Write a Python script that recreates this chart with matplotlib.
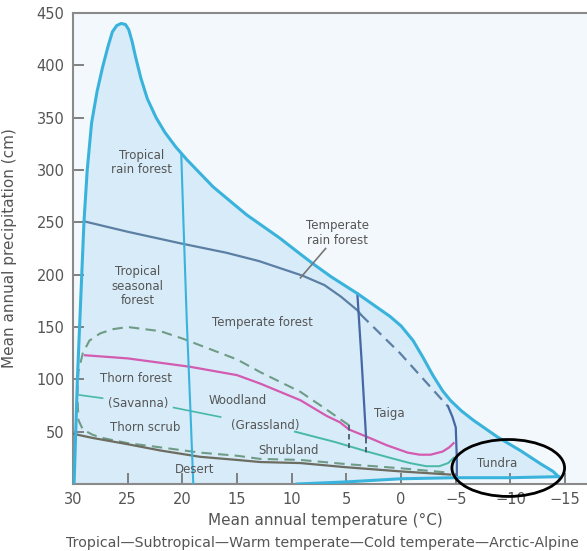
import matplotlib
matplotlib.use("Agg")
import matplotlib.pyplot as plt
from matplotlib.patches import Ellipse, Polygon

# ---------------- data (temperature degC, precipitation cm) ----------------
outer_temp = [29.9, 29.75, 29.6, 29.4, 29.2, 29.0, 28.7, 28.3, 27.8, 27.3, 26.8, 26.4,
              26.0, 25.6, 25.2, 24.9, 24.6, 24.3, 23.8, 23.2, 22.4, 21.6, 20.6, 19.6,
              18.4, 17.2, 15.6, 14.1, 12.6, 11.1, 9.5, 8.0, 6.4, 4.9, 4.0, 2.5, 1.0,
              0.0, -1.1, -2.0, -2.9, -3.8, -4.5, -5.5, -6.6, -8.8, -10.9, -12.8, -13.9, -14.4]
outer_prec = [0, 50, 100, 150, 200, 250, 300, 345, 375, 398, 418, 432,
              438, 440, 439, 434, 423, 409, 388, 368, 350, 336, 322, 310,
              297, 284, 270, 257, 246, 235, 222, 210, 198, 188, 182, 171, 160,
              151, 137, 121, 104, 89, 80, 70, 61, 45, 32, 19, 12, 7]
bottom_temp = [-14.4, -10.0, -5.0, 0.0, 5.0, 9.5]
bottom_prec = [7, 6, 6, 5, 2, 0]

rainforest_temp = [20.1, 19.9, 19.6, 19.3, 19.0]
rainforest_prec = [315, 250, 157, 80, 0]

seasonal_temp = [29.0, 25.0, 20.2, 16.0, 13.0, 11.0, 9.0, 7.0, 5.5, 4.0, 3.7]
seasonal_prec = [251, 241, 230, 221, 213, 206, 199, 190, 179, 166, 162]

taigadash_temp = [3.7, 0.1, -2.4, -4.3]
taigadash_prec = [162, 125, 96, 74]

tempforest_temp = [4.0, 3.6, 3.2]
tempforest_prec = [182, 116, 44]
tempforest_dash_temp = [3.2, 3.2]
tempforest_dash_prec = [44, 30]

short_dash_temp = [4.75, 4.75]
short_dash_prec = [56, 34]

tundra_temp = [-4.3, -4.7, -5.0, -5.1, -5.1]
tundra_prec = [74, 64, 54, 23, 6]

magenta_temp = [28.9, 25.0, 19.3, 15.0, 12.9, 9.2, 6.8, 5.6, 4.75, 3.1, 1.3, -0.6, -1.7, -2.7, -3.8, -4.4, -4.8]
magenta_prec = [123, 120, 112, 104, 96, 80, 65, 59, 52, 45, 37, 30, 28, 28, 31, 35, 39]

wood_temp = [4.75, 6.8, 9.2, 12.9, 15.0, 20.0, 22.0, 25.0, 26.3, 27.5, 28.5, 29.1, 29.5,
             29.6, 29.5, 29.1, 28.2, 27.3, 25.0, 22.0, 18.4, 15.0, 12.9, 9.2, 5.0, 0.0, -4.2]
wood_prec = [56, 71, 88, 107, 119, 139, 146, 150, 148, 144, 137, 125, 108,
             85, 61, 52, 47, 44, 39, 35, 30, 27, 24, 23, 19, 15, 11]

desert_temp = [30.0, 28.2, 25.0, 22.0, 18.4, 15.0, 12.9, 9.2, 5.0, 0.0, -4.5]
desert_prec = [48, 44, 38, 32, 26, 23, 21, 20, 16, 12, 9]

shrub_temp = [9.7, 6.0, 3.1, 1.0, -0.8, -2.3, -3.5, -4.3, -4.8]
shrub_prec = [50, 40, 31, 25, 20, 17, 17, 20, 25]

savanna_ptr_temp = [29.4, 27.3]
savanna_ptr_prec = [85, 82]
grass_ptr_temp = [20.8, 16.5]
grass_ptr_prec = [73, 64]
trf_ptr_temp = [9.2, 6.9]
trf_ptr_prec = [197, 225]

labels = ["Tropical\nrain forest", "Tropical\nseasonal\nforest", "Temperate\nrain forest",
          "Temperate forest", "Thorn forest", "(Savanna)", "Thorn scrub", "Woodland",
          "(Grassland)", "Shrubland", "Desert", "Taiga", "Tundra"]
label_temp = [23.7, 24.1, 5.8, 12.7, 24.2, 24.0, 23.4, 14.9, 12.4, 10.3, 18.9, 1.1, -8.8]
label_prec = [307, 189, 240, 154, 101, 77, 54, 80, 56, 32, 14, 67, 20]

xticks = [30, 25, 20, 15, 10, 5, 0, -5, -10, -15]
yticks = [50, 100, 150, 200, 250, 300, 350, 400, 450]

# ---------------- styles ----------------
CYAN = "#3ab3dc"
DARK = "#5c7fa4"
VDARK = "#4567a6"
MAG = "#d35bb0"
GDASH = "#6f9c86"
TEAL = "#47b9a6"
DES = "#6c6c60"
FILL = "#d7ebf8"
BG = "#f3f8fc"
TXT = "#555555"

fig = plt.figure(figsize=(5.87, 5.51), dpi=100)
ax = fig.add_axes([73 / 587, 67 / 551, 514 / 587, 471 / 551])
ax.set_facecolor(BG)
ax.set_xlim(30, -17)
ax.set_ylim(0, 450)

poly_x = outer_temp + bottom_temp + [29.9]
poly_y = outer_prec + bottom_prec + [0]
ax.add_patch(Polygon(list(zip(poly_x, poly_y)), closed=True, fc=FILL, ec="none", zorder=1))

ax.plot(outer_temp, outer_prec, color=CYAN, lw=2.2, zorder=5, solid_joinstyle="round")
ax.plot(bottom_temp, bottom_prec, color=CYAN, lw=2.2, zorder=5)
ax.plot(rainforest_temp, rainforest_prec, color=CYAN, lw=1.5, zorder=4)
ax.plot(seasonal_temp, seasonal_prec, color=DARK, lw=1.6, zorder=3, solid_joinstyle="round")
ax.plot(taigadash_temp, taigadash_prec, color=DARK, lw=1.6, ls=(0, (5, 3)), zorder=3)
ax.plot(tempforest_temp, tempforest_prec, color=VDARK, lw=1.6, zorder=4)
ax.plot(tempforest_dash_temp, tempforest_dash_prec, color="#4a5a70", lw=1.3, ls=(0, (3, 2)), zorder=4)
ax.plot(short_dash_temp, short_dash_prec, color="#4a5a70", lw=1.3, ls=(0, (3, 2)), zorder=4)
ax.plot(tundra_temp, tundra_prec, color=VDARK, lw=1.6, zorder=4, solid_joinstyle="round")
ax.plot(magenta_temp, magenta_prec, color=MAG, lw=1.6, zorder=3, solid_joinstyle="round")
ax.plot(wood_temp, wood_prec, color=GDASH, lw=1.5, ls=(0, (5, 3)), zorder=3)
ax.plot(desert_temp, desert_prec, color=DES, lw=1.6, zorder=3, solid_joinstyle="round")
ax.plot(shrub_temp, shrub_prec, color=TEAL, lw=1.4, zorder=3, solid_joinstyle="round")
ax.plot(savanna_ptr_temp, savanna_ptr_prec, color=TEAL, lw=1.2, zorder=3)
ax.plot(grass_ptr_temp, grass_ptr_prec, color=TEAL, lw=1.2, zorder=3)
ax.plot(trf_ptr_temp, trf_ptr_prec, color="#777777", lw=1.2, zorder=6)

for t, x, y in zip(labels, label_temp, label_prec):
    ax.text(x, y, t, ha="center", va="center", fontsize=8.5, color=TXT,
            linespacing=1.15, zorder=7)

ax.add_patch(Ellipse((-9.8, 15.3), 10.3, 54.4, fill=False, ec="black", lw=2.0,
                     clip_on=False, zorder=8))

ax.set_xticks(xticks)
ax.set_xticklabels([("\u2212" + str(-v)) if v < 0 else str(v) for v in xticks])
ax.set_yticks(yticks)
ax.set_yticklabels([str(v) for v in yticks])
ax.tick_params(direction="in", length=8, width=1.3, color="#777777",
               labelsize=10.5, labelcolor=TXT, pad=6)
for s in ["left", "top", "bottom"]:
    ax.spines[s].set_color("#8a8a8a")
    ax.spines[s].set_linewidth(1.5)
ax.spines["right"].set_visible(False)

ax.set_xlabel("Mean annual temperature (\u00b0C)", fontsize=11, color=TXT)
ax.xaxis.set_label_coords((325 - 73) / 514, (484 - 513) / 471)
ax.set_ylabel("Mean annual precipitation (cm)", fontsize=11, color=TXT)
ax.yaxis.set_label_coords((17 - 73) / 514, 0.5)

fig.text(322 / 587, 1 - 543 / 551,
         "Tropical\u2014Subtropical\u2014Warm temperate\u2014Cold temperate\u2014Arctic-Alpine",
         ha="center", va="center", fontsize=10.2, color=TXT)

fig.savefig("out.png", dpi=100)
